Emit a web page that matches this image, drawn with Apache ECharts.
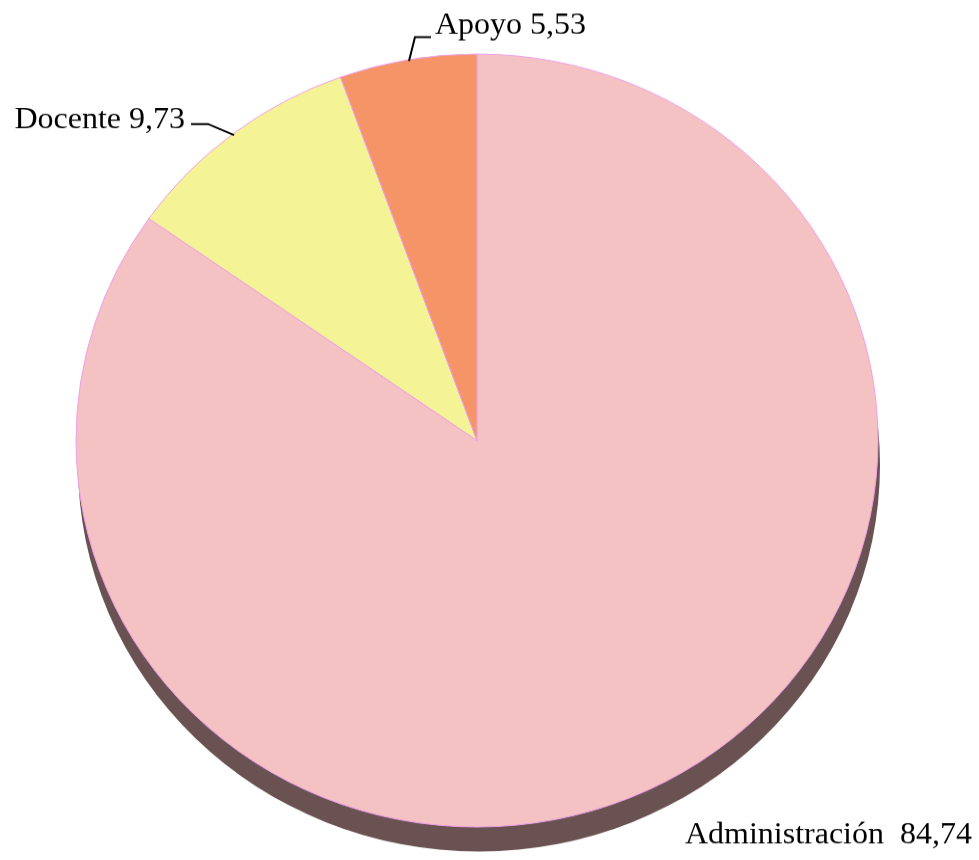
<!DOCTYPE html>
<html>
<head>
<meta charset="utf-8">
<script src="https://cdn.jsdelivr.net/npm/echarts@6/dist/echarts.min.js"></script>
<style>
  html, body { margin: 0; padding: 0; background: #fff; overflow: hidden; }
  #wrap { width: 979px; height: 860px; overflow: hidden; }
  /* el pastel original es ligeramente elíptico */
  #main { width: 979px; height: 893px; transform: scaleY(0.9638); transform-origin: 0 0; }
</style>
</head>
<body>
<div id="wrap"><div id="main"></div></div>
<script>
// datos del gráfico
const categories = ['Administración', 'Docente', 'Apoyo']
const values = [84.74, 9.73, 5.53]
const labelTexts = ['Administración  84,74', 'Docente 9,73', 'Apoyo 5,53']
const colors = ['#f4c2c2', '#f4f396', '#f49467']

const sy = 0.9638
const Y = y => y / sy  // pantalla -> coordenadas del gráfico

// posiciones de las etiquetas y sus líneas guía (en pantalla)
const labelPos = [
  {x: 972, y: 835, align: 'right'},
  {x: 185, y: 120, align: 'right'},
  {x: 435, y: 26, align: 'left'}
]
const leaderLines = [
  [[191, 124], [208, 124], [234, 135]],
  [[409, 61], [415, 37], [431, 37]]
]

const chart = echarts.init(document.getElementById('main'))

const seriesData = categories.map((name, i) => ({
  name: name,
  value: values[i],
  itemStyle: {color: colors[i]}
}))

const option = {
  animation: false,
  graphic: leaderLines.map(pts => ({
    type: 'polyline',
    z: 10,
    shape: {points: pts.map(p => [p[0], Y(p[1])])},
    style: {stroke: '#000', lineWidth: 2, fill: null}
  })),
  series: [
    {
      // canto del pastel (efecto 3D)
      type: 'pie',
      silent: true,
      center: [479, Y(465)],
      radius: [0, 401],
      startAngle: 90,
      label: {show: false},
      labelLine: {show: false},
      itemStyle: {color: '#6b5252', borderWidth: 0},
      data: categories.map((name, i) => ({name: name, value: values[i]}))
    },
    {
      type: 'pie',
      center: [477, Y(440.5)],
      radius: [0, 401],
      startAngle: 90,
      clockwise: true,
      itemStyle: {borderColor: '#f0a0ee', borderWidth: 1},
      label: {
        show: true,
        formatter: p => labelTexts[p.dataIndex],
        fontFamily: 'Liberation Serif',
        fontSize: 32,
        color: '#000',
        overflow: 'none'
      },
      labelLine: {show: false},
      labelLayout: params => {
        const pos = labelPos[params.dataIndex]
        return {x: pos.x, y: Y(pos.y), align: pos.align, verticalAlign: 'middle', width: 400}
      },
      data: seriesData
    }
  ]
}

chart.setOption(option)
</script>
</body>
</html>
